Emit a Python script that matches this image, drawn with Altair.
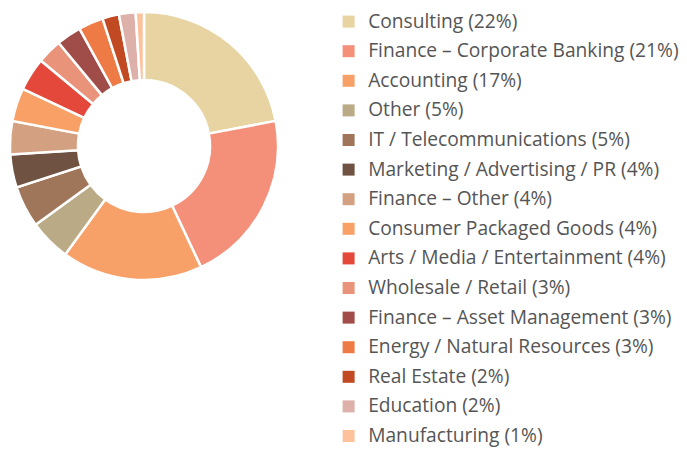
import altair as alt
import pandas as pd

categories = [
    "Consulting (22%)",
    "Finance – Corporate Banking (21%)",
    "Accounting (17%)",
    "Other (5%)",
    "IT / Telecommunications (5%)",
    "Marketing / Advertising / PR (4%)",
    "Finance – Other (4%)",
    "Consumer Packaged Goods (4%)",
    "Arts / Media / Entertainment (4%)",
    "Wholesale / Retail (3%)",
    "Finance – Asset Management (3%)",
    "Energy / Natural Resources (3%)",
    "Real Estate (2%)",
    "Education (2%)",
    "Manufacturing (1%)",
]
values = [22, 21, 17, 5, 5, 4, 4, 4, 4, 3, 3, 3, 2, 2, 1]
colors = [
    "#E8D4A2", "#F4907A", "#F7A068", "#BBAA86", "#A0765A",
    "#6F5242", "#D4A082", "#F8A066", "#E4483A", "#E8937A",
    "#A04C48", "#EE7A45", "#C24A22", "#DDB0AA", "#FDC29C",
]

df = pd.DataFrame({"category": categories, "value": values, "idx": list(range(len(categories)))})

chart = (
    alt.Chart(df)
    .mark_arc(outerRadius=134, innerRadius=66, stroke="white", strokeWidth=2.5)
    .encode(
        theta=alt.Theta("value:Q", stack=True),
        order=alt.Order("idx:Q"),
        color=alt.Color(
            "category:N",
            scale=alt.Scale(domain=categories, range=colors),
            legend=alt.Legend(
                title=None,
                orient="none",
                legendX=331,
                legendY=4,
                padding=0,
                symbolType="square",
                symbolSize=144,
                symbolStrokeWidth=0,
                symbolOpacity=1,
                labelFont="Open Sans",
                labelFontSize=19.2,
                labelColor="#555555",
                labelOffset=10,
                labelLimit=400,
                rowPadding=9.6,
            ),
        ),
        x=alt.value(136),
        y=alt.value(138),
    )
    .properties(width=671, height=443, autosize="none", padding=0)
    .configure_view(stroke=None)
)

chart.save("out.html", embed_options={"renderer": "svg", "actions": False})
